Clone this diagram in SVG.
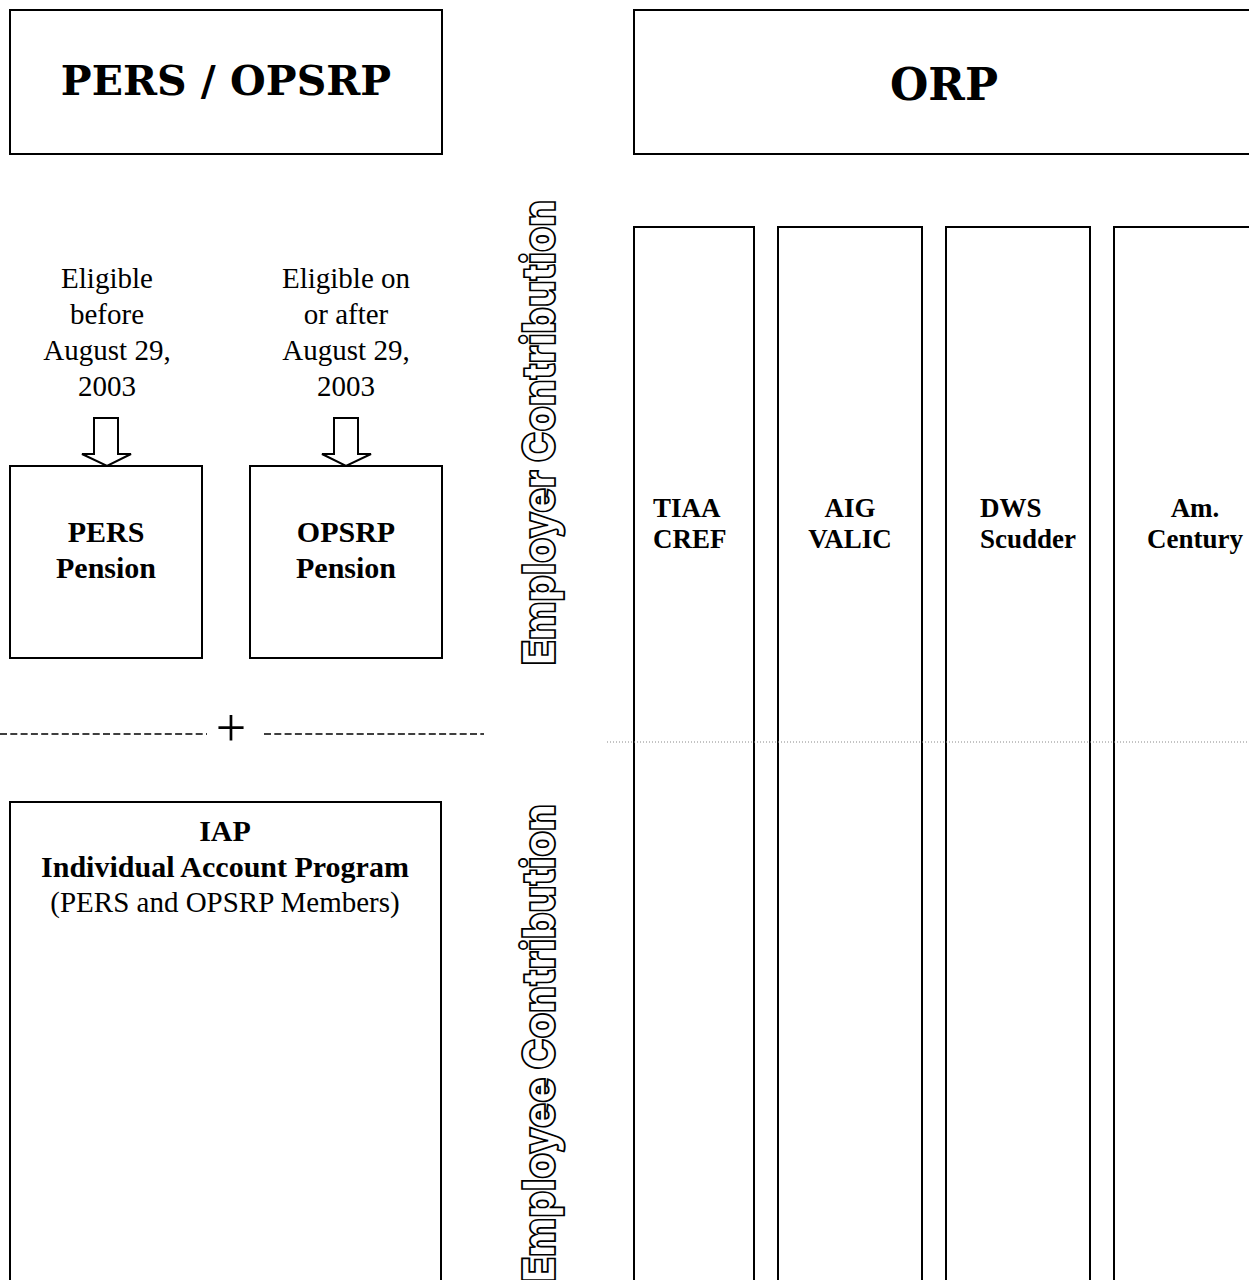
<svg xmlns="http://www.w3.org/2000/svg" width="1249" height="1280" viewBox="0 0 1249 1280">
<style>
.box{fill:#fff;stroke:#000;stroke-width:2}
.title{font-family:"DejaVu Serif",serif;font-weight:bold;text-anchor:middle;fill:#000}
.reg{font-family:"Liberation Serif",serif;font-size:29px;text-anchor:middle;fill:#000}
.bold{font-family:"Liberation Serif",serif;font-weight:bold;font-size:30px;text-anchor:middle;fill:#000}
.col{font-family:"Liberation Serif",serif;font-weight:bold;font-size:27px;fill:#000}
.vert{font-family:Inter,"DejaVu Sans",sans-serif;font-weight:900;font-size:46px;fill:#fff;stroke:#000;stroke-width:1.8}
.arrow{fill:#fff;stroke:#000;stroke-width:2;stroke-linejoin:miter}
</style>
<rect width="1249" height="1280" fill="#fff"/>

<g id="pers-opsrp-header">
<rect class="box" x="10" y="10" width="432" height="144"/>
<text class="title" x="226" y="95" font-size="41">PERS / OPSRP</text>
</g>

<g id="orp-header">
<rect class="box" x="634" y="10" width="640" height="144"/>
<text class="title" x="944" y="100" font-size="44">ORP</text>
</g>

<g id="eligible-before">
<text class="reg" x="107" y="288">Eligible</text>
<text class="reg" x="107" y="324">before</text>
<text class="reg" x="107" y="360">August 29,</text>
<text class="reg" x="107" y="396">2003</text>
</g>

<g id="eligible-after">
<text class="reg" x="346" y="288">Eligible on</text>
<text class="reg" x="346" y="324">or after</text>
<text class="reg" x="346" y="360">August 29,</text>
<text class="reg" x="346" y="396">2003</text>
</g>

<g id="pers-pension">
<rect class="box" x="10" y="466" width="192" height="192"/>
<text class="bold" x="106" y="542">PERS</text>
<text class="bold" x="106" y="578">Pension</text>
</g>

<g id="opsrp-pension">
<rect class="box" x="250" y="466" width="192" height="192"/>
<text class="bold" x="346" y="542">OPSRP</text>
<text class="bold" x="346" y="578">Pension</text>
</g>

<g id="iap">
<rect class="box" x="10" y="802" width="431" height="500"/>
<text class="bold" x="225" y="841">IAP</text>
<text class="bold" x="225" y="877">Individual Account Program</text>
<text class="reg" x="225" y="912" font-size="30">(PERS and OPSRP Members)</text>
</g>

<g id="tiaa-cref">
<rect class="box" x="634" y="227" width="120" height="1080"/>
<text class="col" x="653" y="517">TIAA</text>
<text class="col" x="653" y="548">CREF</text>
</g>

<g id="aig-valic">
<rect class="box" x="778" y="227" width="144" height="1080"/>
<text class="col" x="850" y="517" text-anchor="middle">AIG</text>
<text class="col" x="850" y="548" text-anchor="middle">VALIC</text>
</g>

<g id="dws-scudder">
<rect class="box" x="946" y="227" width="144" height="1080"/>
<text class="col" x="980" y="517">DWS</text>
<text class="col" x="980" y="548">Scudder</text>
</g>

<g id="am-century">
<rect class="box" x="1114" y="227" width="160" height="1080"/>
<text class="col" x="1195" y="517" text-anchor="middle">Am.</text>
<text class="col" x="1195" y="548" text-anchor="middle">Century</text>
</g>

<g id="employer-contribution">
<text class="vert" transform="translate(555,665) rotate(-90)" textLength="465" lengthAdjust="spacingAndGlyphs">Employer Contribution</text>
</g>

<g id="employee-contribution">
<text class="vert" transform="translate(555,1282) rotate(-90)" textLength="478" lengthAdjust="spacingAndGlyphs">Employee Contribution</text>
</g>

<g id="connectors">
<path class="arrow" d="M94,418 H118 V454 H131 L107,466 L82,454 H94 Z"/>
<path class="arrow" d="M334,418 H358 V454 H371 L346,466 L322,454 H334 Z"/>
<line x1="0" y1="734" x2="207" y2="734" stroke="#000" stroke-width="1.5" stroke-dasharray="7,3.3"/>
<line x1="264" y1="734" x2="484" y2="734" stroke="#000" stroke-width="1.5" stroke-dasharray="7,3.3"/>
<text x="231" y="746" font-family="Liberation Serif, serif" font-size="54" text-anchor="middle" fill="#000">+</text>
<line x1="607" y1="742" x2="1249" y2="742" stroke="#888" stroke-width="1" stroke-dasharray="1,2"/>
</g>
</svg>
